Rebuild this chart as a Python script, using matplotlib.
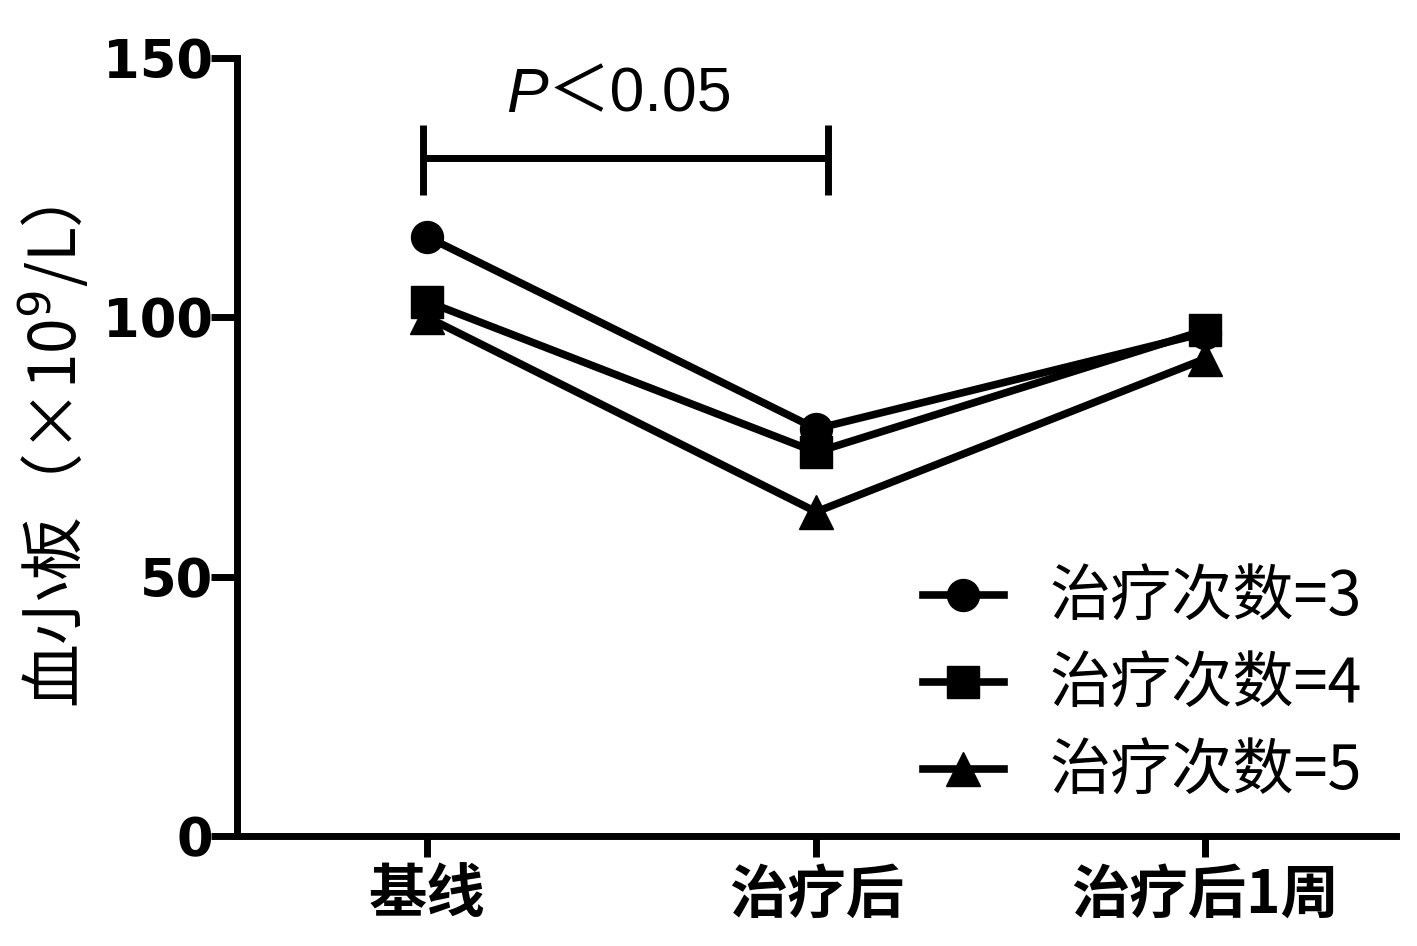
import matplotlib
matplotlib.use("Agg")
import matplotlib.pyplot as plt

plt.rcParams['font.family'] = ['Noto Sans CJK SC', 'DejaVu Sans']

categories = ['基线', '治疗后', '治疗后1周']
series_labels = ['治疗次数=3', '治疗次数=4', '治疗次数=5']
vals_3 = [115.5, 78.5, 97.0]
vals_4 = [103.0, 74.0, 97.5]
vals_5 = [100.0, 62.5, 92.0]
yticks = [0, 50, 100, 150]

fig = plt.figure(figsize=(14.17, 9.46), dpi=100)
ax = fig.add_axes([0.167, 0.116, 0.818, 0.823])

x = list(range(len(categories)))
lw = 5.5
ax.plot(x, vals_5, color='black', lw=lw, marker='^', ms=24, label=series_labels[2], zorder=3)
ax.plot(x, vals_4, color='black', lw=lw, marker='s', ms=23, label=series_labels[1], zorder=4)
ax.plot(x, vals_3, color='black', lw=lw, marker='o', ms=23, label=series_labels[0], zorder=5)

ax.set_xlim(-0.49, 2.49)
ax.set_ylim(0, 150)
ax.set_yticks(yticks)
ax.set_xticks(x)
ax.set_xticklabels(categories, fontsize=42, fontweight='bold')
ax.set_yticklabels([str(t) for t in yticks], fontsize=38, fontweight='bold',
                   family=['DejaVu Sans'])
for s in ['top', 'right']:
    ax.spines[s].set_visible(False)
for s in ['left', 'bottom']:
    ax.spines[s].set_linewidth(5)
ax.tick_params(axis='y', direction='out', length=19, width=5, pad=-2)
ax.tick_params(axis='x', direction='out', length=15, width=5, pad=6)

ax.set_ylabel('血小板（×10$^{9}$/L）', fontsize=46)
ax.yaxis.set_label_coords(-0.125, 0.487)

# significance bracket
bx0, bx1, by = -0.01, 1.03, 130.7
ax.plot([bx0, bx1], [by, by], color='black', lw=5, solid_capstyle='butt')
ax.plot([bx0, bx0], [123.5, 137], color='black', lw=5, solid_capstyle='butt')
ax.plot([bx1, bx1], [123.5, 137], color='black', lw=5, solid_capstyle='butt')
ax.text(0.31, 139.6, 'P', ha='right', va='baseline', fontsize=45, style='italic',
        family=['Liberation Sans'])
ax.text(0.31, 139.6, '＜0.05', ha='left', va='baseline', fontsize=45,
        family=['Liberation Sans', 'Noto Sans CJK SC'])

handles, labels = ax.get_legend_handles_labels()
order = [2, 1, 0]
leg = ax.legend([handles[i] for i in order], [labels[i] for i in order],
                loc='upper left', bbox_to_anchor=(0.592, 0.345), frameon=False,
                fontsize=44, handlelength=1.33, handletextpad=0.75, labelspacing=0.4,
                borderaxespad=0, borderpad=0)

fig.savefig('out.png', dpi=100)
